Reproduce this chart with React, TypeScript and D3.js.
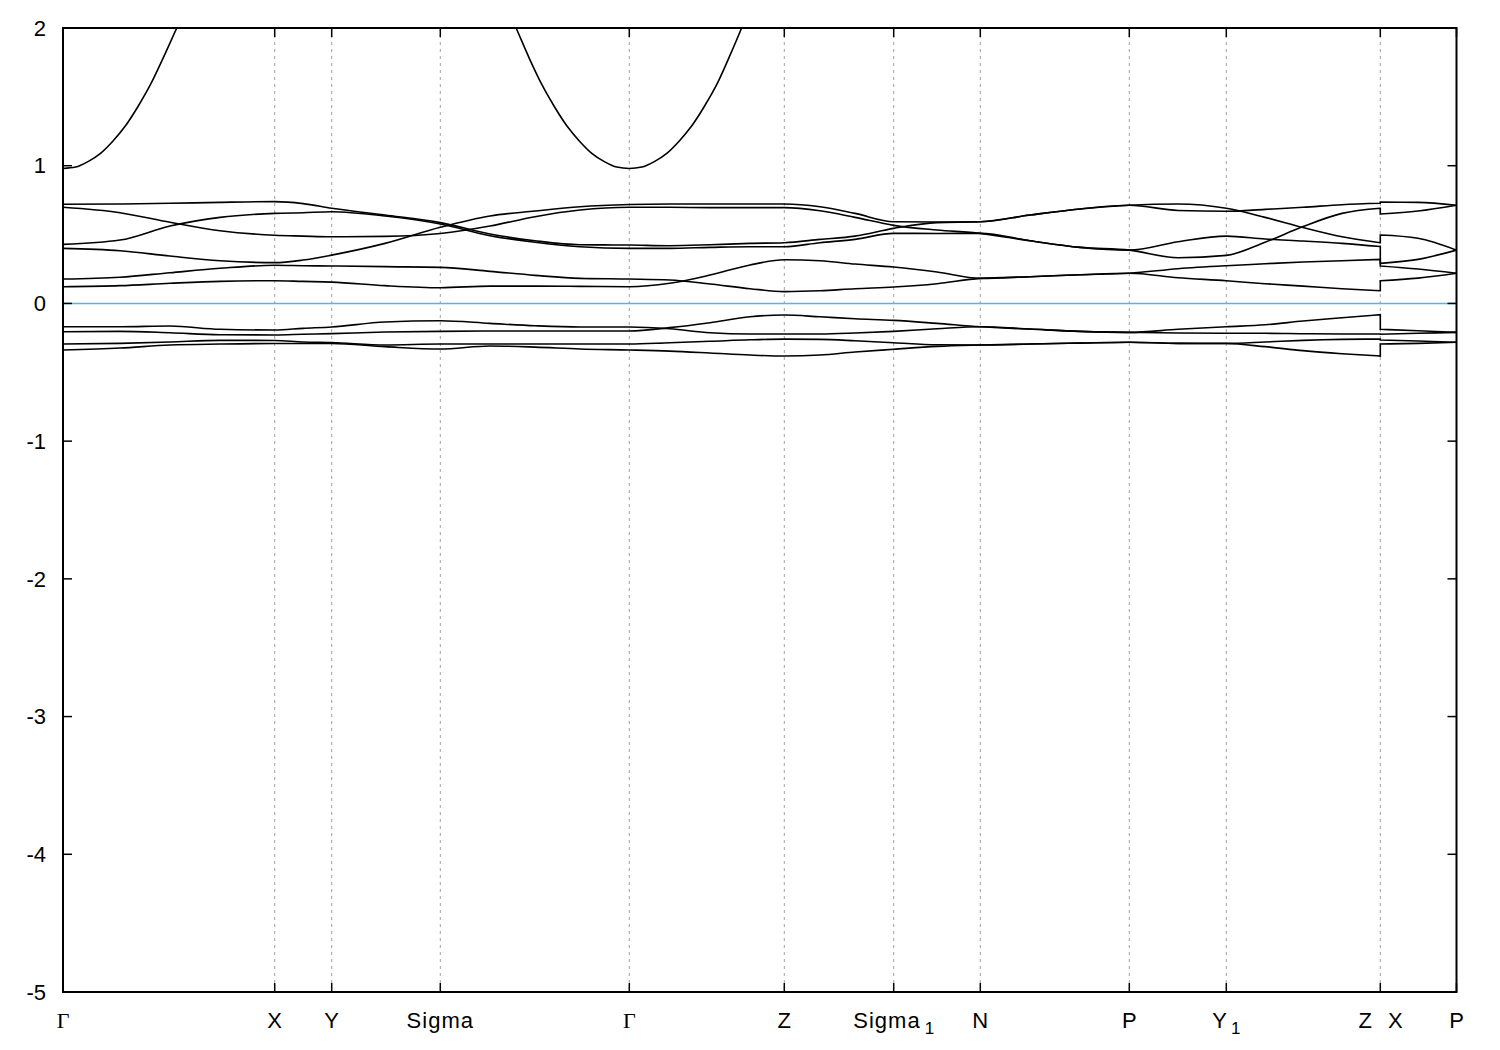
import React from 'react'
import * as d3 from 'd3'

// k-path coordinates of every sample (the Z|X break repeats the same k)
const kPath = [
	0, 0.114, 0.214, 0.314, 0.4234, 0.48, 0.5374, 0.644, 0.7546, 0.854, 0.944, 1.034,
	1.1326, 1.2134, 1.294, 1.374, 1.4426, 1.514, 1.584, 1.6614, 1.748, 1.8346, 1.934,
	2.034, 2.1326, 2.23, 2.3266, 2.404, 2.48, 2.558, 2.6346, 2.6346, 2.71, 2.787,
]
const breakIndex = 31 // first sample after the Z|X jump

// band energies (eV) at each kPath sample
const bandA = [0.72, 0.722, 0.727, 0.734, 0.739, 0.725, 0.691, 0.642, 0.587, 0.504, 0.455, 0.426, 0.424, 0.419, 0.426, 0.436, 0.441, 0.465, 0.489, 0.545, 0.587, 0.593, 0.642, 0.686, 0.713, 0.675, 0.669, 0.683, 0.698, 0.717, 0.727, 0.737, 0.734, 0.713]
const bandB = [0.698, 0.659, 0.589, 0.528, 0.495, 0.489, 0.484, 0.487, 0.508, 0.562, 0.63, 0.678, 0.698, 0.698, 0.696, 0.696, 0.696, 0.673, 0.625, 0.567, 0.533, 0.509, 0.455, 0.407, 0.387, 0.448, 0.489, 0.468, 0.453, 0.436, 0.413, 0.291, 0.32, 0.387]
const bandC = [0.429, 0.46, 0.562, 0.625, 0.654, 0.659, 0.666, 0.635, 0.577, 0.492, 0.444, 0.412, 0.4, 0.4, 0.407, 0.412, 0.412, 0.441, 0.465, 0.509, 0.508, 0.509, 0.455, 0.407, 0.387, 0.332, 0.349, 0.444, 0.558, 0.654, 0.691, 0.649, 0.671, 0.713]
const bandD = [0.4, 0.383, 0.344, 0.31, 0.296, 0.315, 0.351, 0.436, 0.553, 0.635, 0.671, 0.702, 0.718, 0.722, 0.722, 0.722, 0.722, 0.702, 0.654, 0.593, 0.591, 0.593, 0.642, 0.686, 0.713, 0.722, 0.691, 0.625, 0.551, 0.484, 0.441, 0.497, 0.473, 0.387]
const bandE = [0.177, 0.19, 0.223, 0.255, 0.277, 0.274, 0.272, 0.267, 0.262, 0.233, 0.204, 0.182, 0.177, 0.17, 0.141, 0.107, 0.086, 0.092, 0.107, 0.119, 0.143, 0.182, 0.194, 0.208, 0.219, 0.187, 0.165, 0.143, 0.126, 0.107, 0.092, 0.165, 0.184, 0.219]
const bandF = [0.121, 0.129, 0.146, 0.16, 0.165, 0.16, 0.155, 0.129, 0.114, 0.126, 0.126, 0.124, 0.121, 0.146, 0.206, 0.279, 0.317, 0.31, 0.286, 0.264, 0.228, 0.182, 0.194, 0.208, 0.219, 0.252, 0.274, 0.288, 0.301, 0.31, 0.32, 0.272, 0.25, 0.219]
const bandG = [-0.169, -0.169, -0.164, -0.188, -0.193, -0.181, -0.171, -0.135, -0.126, -0.145, -0.162, -0.171, -0.171, -0.184, -0.213, -0.222, -0.222, -0.222, -0.215, -0.203, -0.184, -0.169, -0.186, -0.203, -0.21, -0.215, -0.217, -0.217, -0.22, -0.222, -0.222, -0.224, -0.217, -0.21]
const bandH = [-0.206, -0.203, -0.213, -0.227, -0.229, -0.224, -0.219, -0.208, -0.203, -0.2, -0.2, -0.2, -0.2, -0.176, -0.14, -0.097, -0.084, -0.097, -0.111, -0.123, -0.145, -0.169, -0.186, -0.203, -0.21, -0.188, -0.169, -0.155, -0.128, -0.104, -0.082, -0.188, -0.198, -0.21]
const bandI = [-0.295, -0.29, -0.28, -0.268, -0.269, -0.28, -0.284, -0.302, -0.295, -0.295, -0.295, -0.295, -0.295, -0.285, -0.275, -0.264, -0.259, -0.261, -0.271, -0.285, -0.3, -0.302, -0.295, -0.288, -0.282, -0.29, -0.29, -0.28, -0.268, -0.261, -0.259, -0.266, -0.273, -0.282]
const bandJ = [-0.338, -0.324, -0.302, -0.295, -0.291, -0.291, -0.291, -0.314, -0.331, -0.309, -0.317, -0.331, -0.338, -0.346, -0.36, -0.375, -0.382, -0.375, -0.353, -0.333, -0.312, -0.302, -0.295, -0.288, -0.282, -0.29, -0.291, -0.314, -0.343, -0.365, -0.382, -0.295, -0.29, -0.282]
const bands = [bandA, bandB, bandC, bandD, bandE, bandF, bandG, bandH, bandI, bandJ]

// the free-electron-like band around Gamma (leaves the window above 2 eV)
const kFree = [
	0, 0.025, 0.05, 0.075, 0.1, 0.125, 0.15, 0.175, 0.2, 0.2276, 0.4234, 0.7546,
	0.9062, 0.9326, 0.9576, 0.9826, 1.0076, 1.0326, 1.0576, 1.0826, 1.1076, 1.1326,
	1.1576, 1.1826, 1.2076, 1.2326, 1.2576, 1.2826, 1.3076, 1.3326, 1.3572, 1.4426,
]
const bandFree = [
	0.98, 0.99, 1.03, 1.09, 1.18, 1.29, 1.43, 1.59, 1.78, 2.0, 3.4, 3.1,
	2.0, 1.78, 1.59, 1.43, 1.29, 1.18, 1.09, 1.03, 0.99, 0.98,
	0.99, 1.03, 1.09, 1.18, 1.29, 1.43, 1.59, 1.79, 2.0, 2.9,
]

// high-symmetry points
const kTicks = [0, 0.4234, 0.5374, 0.7546, 1.1326, 1.4426, 1.6614, 1.8346, 2.1326, 2.3266, 2.6346, 2.787]
const kLabels = ['Γ', 'X', 'Y', 'Sigma', 'Γ', 'Z', 'Sigma', 'N', 'P', 'Y', 'Z X', 'P']
const kSubs = ['', '', '', '', '', '', '1', '', '', '1', '', '']
const yTicks = [-5, -4, -3, -2, -1, 0, 1, 2]

const W = 1500,
	H = 1050
const left = 63,
	right = 1456.5,
	top = 28,
	bottom = 992

const sans = '"Liberation Sans", Arial, sans-serif'
const serif = '"Liberation Serif", "Times New Roman", serif'

const App = () => {
	const x = d3.scaleLinear().domain([0, 2.787]).range([left, right])
	const y = d3.scaleLinear().domain([-5, 2]).range([bottom, top])

	const line = d3.line<[number, number]>().curve(d3.curveMonotoneX)

	const bandPath = (vals: number[]) => {
		const pts: [number, number][] = kPath.map((k, i) => [x(k), y(vals[i])])
		const a = line(pts.slice(0, breakIndex)) || ''
		const b = line(pts.slice(breakIndex)) || ''
		return a + b.replace(/^M/, 'L') //straight jump Z -> X
	}

	const freePath = line(kFree.map((k, i) => [x(k), y(bandFree[i])] as [number, number])) || ''

	return (
		<svg
			width={W}
			height={H}
			style={{ position: 'absolute', left: 0, top: 0, background: '#fff' }}
		>
			<defs>
				<clipPath id="plot">
					<rect x={left} y={top} width={right - left} height={bottom - top} />
				</clipPath>
			</defs>
			<rect width={W} height={H} fill="#fff" />

			{/* dashed verticals at the k-points */}
			{kTicks.map((k, i) => (
				<line
					key={'g' + i}
					x1={x(k)}
					x2={x(k)}
					y1={top}
					y2={bottom}
					stroke="#a0a0a0"
					strokeWidth={1}
					strokeDasharray="3,4"
				/>
			))}

			{/* fermi level */}
			<line x1={left} x2={right} y1={y(0)} y2={y(0)} stroke="#56b4e9" strokeWidth={1.5} />

			<g clipPath="url(#plot)" fill="none" stroke="#000" strokeWidth={1.6}>
				{bands.map((b, i) => (
					<path key={'b' + i} d={bandPath(b)} />
				))}
				<path d={freePath} />
			</g>

			{/* frame */}
			<rect
				x={left}
				y={top}
				width={right - left}
				height={bottom - top}
				fill="none"
				stroke="#000"
				strokeWidth={2}
			/>

			{/* y ticks */}
			{yTicks.map((t) => (
				<g key={'y' + t}>
					<line x1={left} x2={left + 9} y1={y(t)} y2={y(t)} stroke="#000" strokeWidth={1.5} />
					<line x1={right - 9} x2={right} y1={y(t)} y2={y(t)} stroke="#000" strokeWidth={1.5} />
					<text
						x={left - 17}
						y={y(t)}
						dy="0.35em"
						textAnchor="end"
						fontFamily={sans}
						fontSize={22}
						fill="#000"
					>
						{t}
					</text>
				</g>
			))}

			{/* x ticks */}
			{kTicks.map((k, i) => {
				const px = x(k)
				const lab = kLabels[i]
				const font = lab === 'Γ' ? serif : sans
				return (
					<g key={'x' + i}>
						<line x1={px} x2={px} y1={bottom} y2={bottom - 9} stroke="#000" strokeWidth={1.5} />
						<line x1={px} x2={px} y1={top} y2={top + 9} stroke="#000" strokeWidth={1.5} />
						{lab.includes(' ') ? (
							lab.split(' ').map((part, j) => (
								<text
									key={j}
									x={px + (j === 0 ? -15 : 15)}
									y={1028}
									textAnchor="middle"
									fontFamily={sans}
									fontSize={22}
								>
									{part}
								</text>
							))
						) : (
							<text
								x={px}
								y={1028}
								textAnchor="middle"
								fontFamily={font}
								fontSize={22}
								letterSpacing={lab === 'Sigma' ? 1 : 0}
							>
								{lab}
								{kSubs[i] && (
									<tspan fontSize={17} dx={4} dy={6} letterSpacing={0}>
										{kSubs[i]}
									</tspan>
								)}
							</text>
						)}
					</g>
				)
			})}
		</svg>
	)
}

export default App
